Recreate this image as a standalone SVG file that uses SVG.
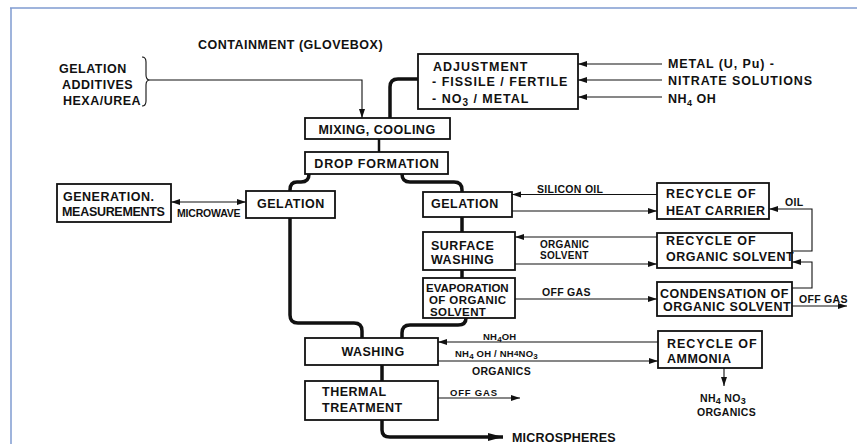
<svg xmlns="http://www.w3.org/2000/svg" width="857" height="444" viewBox="0 0 857 444">
<style>
text{font-family:"Liberation Sans",Arial,sans-serif;font-weight:bold;fill:#111}
.b{font-size:12.5px;letter-spacing:0.5px}
.s{font-size:10.5px;letter-spacing:0.3px}
.xs{font-size:9.5px;letter-spacing:0.2px}
.m{text-anchor:middle}
.box{fill:#fff;stroke:#111;stroke-width:1.8}
.thin{fill:none;stroke:#111;stroke-width:1.1}
.thick{fill:none;stroke:#111;stroke-width:3.5;stroke-linecap:butt}
.mid{fill:none;stroke:#111;stroke-width:2.5}
</style>
<defs>
<marker id="a" markerUnits="userSpaceOnUse" markerWidth="10" markerHeight="8" refX="9" refY="4" orient="auto"><path d="M0,1 L9,4 L0,7 Z" fill="#111"/></marker>
<marker id="as" markerUnits="userSpaceOnUse" markerWidth="10" markerHeight="8" refX="1" refY="4" orient="auto"><path d="M10,1 L1,4 L10,7 Z" fill="#111"/></marker>
<marker id="ab" markerUnits="userSpaceOnUse" markerWidth="16" markerHeight="10" refX="15" refY="5" orient="auto"><path d="M0,1 L15,5 L0,9 Z" fill="#111"/></marker>
</defs>
<g id="frame" fill="none" stroke="#7f9bd0" stroke-width="1.5">
<line x1="10" y1="8" x2="857" y2="8"/>
<line x1="11" y1="8" x2="11" y2="444"/>
</g>
<g id="labels">
<text class="b" x="198" y="48.5">CONTAINMENT (GLOVEBOX)</text>
<text class="b" x="59" y="72.5">GELATION</text>
<text class="b" x="62" y="88.5">ADDITIVES</text>
<text class="b" x="63" y="104.5">HEXA/UREA</text>
<text class="b" x="668" y="67.5" style="letter-spacing:0.9px">METAL (U, Pu) -</text>
<text class="b" x="668" y="84.5" style="letter-spacing:0.9px">NITRATE SOLUTIONS</text>
<text class="b" x="668" y="102.5">NH<tspan font-size="9" dy="3">4</tspan><tspan dy="-3"> OH</tspan></text>
<text class="s" x="177" y="216.5" style="letter-spacing:-0.2px">MICROWAVE</text>
<text class="s" x="537" y="193">SILICON OIL</text>
<text class="s" x="785" y="206">OIL</text>
<text class="s" x="540" y="248" style="font-size:10px">ORGANIC</text>
<text class="s" x="540" y="259" style="font-size:10px">SOLVENT</text>
<text class="s" x="542" y="296">OFF GAS</text>
<text class="s" x="799" y="303">OFF GAS</text>
<text class="xs" x="483" y="339.5">NH<tspan font-size="8" dy="2">4</tspan><tspan dy="-2">OH</tspan></text>
<text class="xs" x="455" y="357">NH<tspan font-size="8" dy="2">4</tspan><tspan dy="-2"> OH / NH</tspan><tspan font-size="8" dy="-1">4</tspan><tspan dy="1">NO</tspan><tspan font-size="8" dy="2">3</tspan></text>
<text class="s" x="472" y="374.5">ORGANICS</text>
<text class="xs" x="450" y="396" style="letter-spacing:0.8px">OFF GAS</text>
<text class="s" x="700" y="402">NH<tspan font-size="9" dy="2">4</tspan><tspan dy="-2"> NO</tspan><tspan font-size="9" dy="2">3</tspan></text>
<text class="s" x="697" y="416">ORGANICS</text>
<text class="b" x="512" y="441.5" style="letter-spacing:0.2px">MICROSPHERES</text>
</g>
<g id="connectors">
<path class="thin" d="M142,57 Q146,57 146,62 L146,75 Q146,80 150,80 Q146,80 146,85 L146,101 Q146,106 142,106" stroke-width="1.5"/>
<path class="thin" d="M150,80 H362 V118" marker-end="url(#a)"/>
<path class="thick" d="M418,79 H398 Q390,79 390,87 V118"/>
<line class="mid" x1="379" y1="139" x2="379" y2="152"/>
<path class="thick" d="M309,174 Q309,182 301,182 H297 Q290,182 290,190 V191"/>
<path class="thick" d="M402,174 Q402,182 410,182 H454 Q462,182 462,190 V192"/>
<path class="thick" d="M290,218 V315 Q290,323 298,323 H354 Q362,323 362,331 V338"/>
<path class="thick" d="M466,318 Q466,325 458,325 H410 Q402,325 402,333 V338"/>
<line class="thick" x1="462" y1="217" x2="462" y2="232" stroke-width="3"/>
<line class="thick" x1="462" y1="270" x2="462" y2="278" stroke-width="3"/>
<line class="thick" x1="382" y1="365" x2="382" y2="381" stroke-width="3"/>
<path class="thick" d="M382,420 V430 Q382,437 390,437 H503" marker-end="url(#ab)"/>
<line class="thin" x1="171" y1="202" x2="246" y2="202" marker-start="url(#as)" marker-end="url(#a)"/>
<line class="thin" x1="662" y1="64" x2="578" y2="64" marker-end="url(#a)"/>
<line class="thin" x1="662" y1="80" x2="578" y2="80" marker-end="url(#a)"/>
<line class="thin" x1="662" y1="97" x2="578" y2="97" marker-end="url(#a)"/>
<line class="thin" x1="657" y1="194.5" x2="512" y2="194.5" marker-end="url(#a)"/>
<line class="thin" x1="512" y1="211" x2="657" y2="211" marker-end="url(#a)"/>
<path class="thin" d="M792,251 H812 V209 H769" marker-end="url(#a)"/>
<line class="thin" x1="657" y1="237" x2="515" y2="237" marker-end="url(#a)"/>
<line class="thin" x1="515" y1="264" x2="657" y2="264" marker-end="url(#a)"/>
<path class="thin" d="M792,288 H812 V262 H792" marker-end="url(#a)"/>
<line class="thin" x1="515" y1="299" x2="657" y2="299" marker-end="url(#a)"/>
<line class="thin" x1="792" y1="306" x2="847" y2="306" marker-end="url(#a)"/>
<line class="thin" x1="658" y1="342" x2="438" y2="342" marker-end="url(#a)"/>
<line class="thin" x1="438" y1="361" x2="658" y2="361" marker-end="url(#a)"/>
<line class="thin" x1="724" y1="368" x2="724" y2="386" marker-end="url(#a)"/>
<line class="thin" x1="438" y1="398" x2="520" y2="398" marker-end="url(#a)"/>
</g>
<g id="adjustment">
<rect class="box" x="418" y="54" width="160" height="55"/>
<text class="b" x="433" y="70.5" style="letter-spacing:1px">ADJUSTMENT</text>
<text class="b" x="432" y="86" style="letter-spacing:1px">- FISSILE / FERTILE</text>
<text class="b" x="432" y="102.5" style="letter-spacing:1px">- NO<tspan font-size="10" dy="3">3</tspan><tspan dy="-3"> / METAL</tspan></text>
</g>
<g id="mixing">
<rect class="box" x="305" y="118" width="145" height="21"/>
<text class="b m" x="377" y="133.5">MIXING, COOLING</text>
</g>
<g id="drop">
<rect class="box" x="305" y="152" width="143" height="22"/>
<text class="b m" x="377" y="167.5" style="letter-spacing:0.8px">DROP FORMATION</text>
</g>
<g id="generation">
<rect class="box" x="57" y="184" width="114" height="38"/>
<text class="b" x="63" y="200.5">GENERATION.</text>
<text class="b" x="62" y="215.5" style="letter-spacing:-0.3px">MEASUREMENTS</text>
</g>
<g id="gelation-left">
<rect class="box" x="246" y="191" width="89" height="27"/>
<text class="b" x="257" y="207.5">GELATION</text>
</g>
<g id="gelation-right">
<rect class="box" x="423" y="192" width="89" height="25"/>
<text class="b" x="431" y="207.5">GELATION</text>
</g>
<g id="surface-washing">
<rect class="box" x="423" y="232" width="92" height="38"/>
<text class="b" x="431" y="249.5">SURFACE</text>
<text class="b" x="431" y="264">WASHING</text>
</g>
<g id="evaporation">
<rect class="box" x="423" y="278" width="92" height="40"/>
<text class="b" x="426" y="291.5" style="font-size:11.5px;letter-spacing:0">EVAPORATION</text>
<text class="b" x="429" y="303.5" style="font-size:11.5px;letter-spacing:0.4px">OF ORGANIC</text>
<text class="b" x="430" y="315.5" style="font-size:11.5px;letter-spacing:0.4px">SOLVENT</text>
</g>
<g id="heat-carrier">
<rect class="box" x="657" y="183" width="112" height="36"/>
<text class="b" x="666" y="197.5" style="letter-spacing:1px">RECYCLE OF</text>
<text class="b" x="666" y="214.5">HEAT CARRIER</text>
</g>
<g id="organic-solvent">
<rect class="box" x="657" y="233" width="135" height="35"/>
<text class="b" x="666" y="245" style="letter-spacing:1px">RECYCLE OF</text>
<text class="b" x="666" y="261">ORGANIC SOLVENT</text>
</g>
<g id="condensation">
<rect class="box" x="657" y="282" width="135" height="34"/>
<text class="b" x="660" y="297.5">CONDENSATION OF</text>
<text class="b" x="663" y="310.5">ORGANIC SOLVENT</text>
</g>
<g id="ammonia">
<rect class="box" x="658" y="331" width="104" height="37"/>
<text class="b" x="667" y="347.5" style="letter-spacing:1px">RECYCLE OF</text>
<text class="b" x="667" y="362.5">AMMONIA</text>
</g>
<g id="washing">
<rect class="box" x="305" y="338" width="133" height="27"/>
<text class="b m" x="373" y="355.5">WASHING</text>
</g>
<g id="thermal">
<rect class="box" x="305" y="381" width="133" height="39"/>
<text class="b" x="322" y="395.5">THERMAL</text>
<text class="b" x="322" y="411.5">TREATMENT</text>
</g>
</svg>
